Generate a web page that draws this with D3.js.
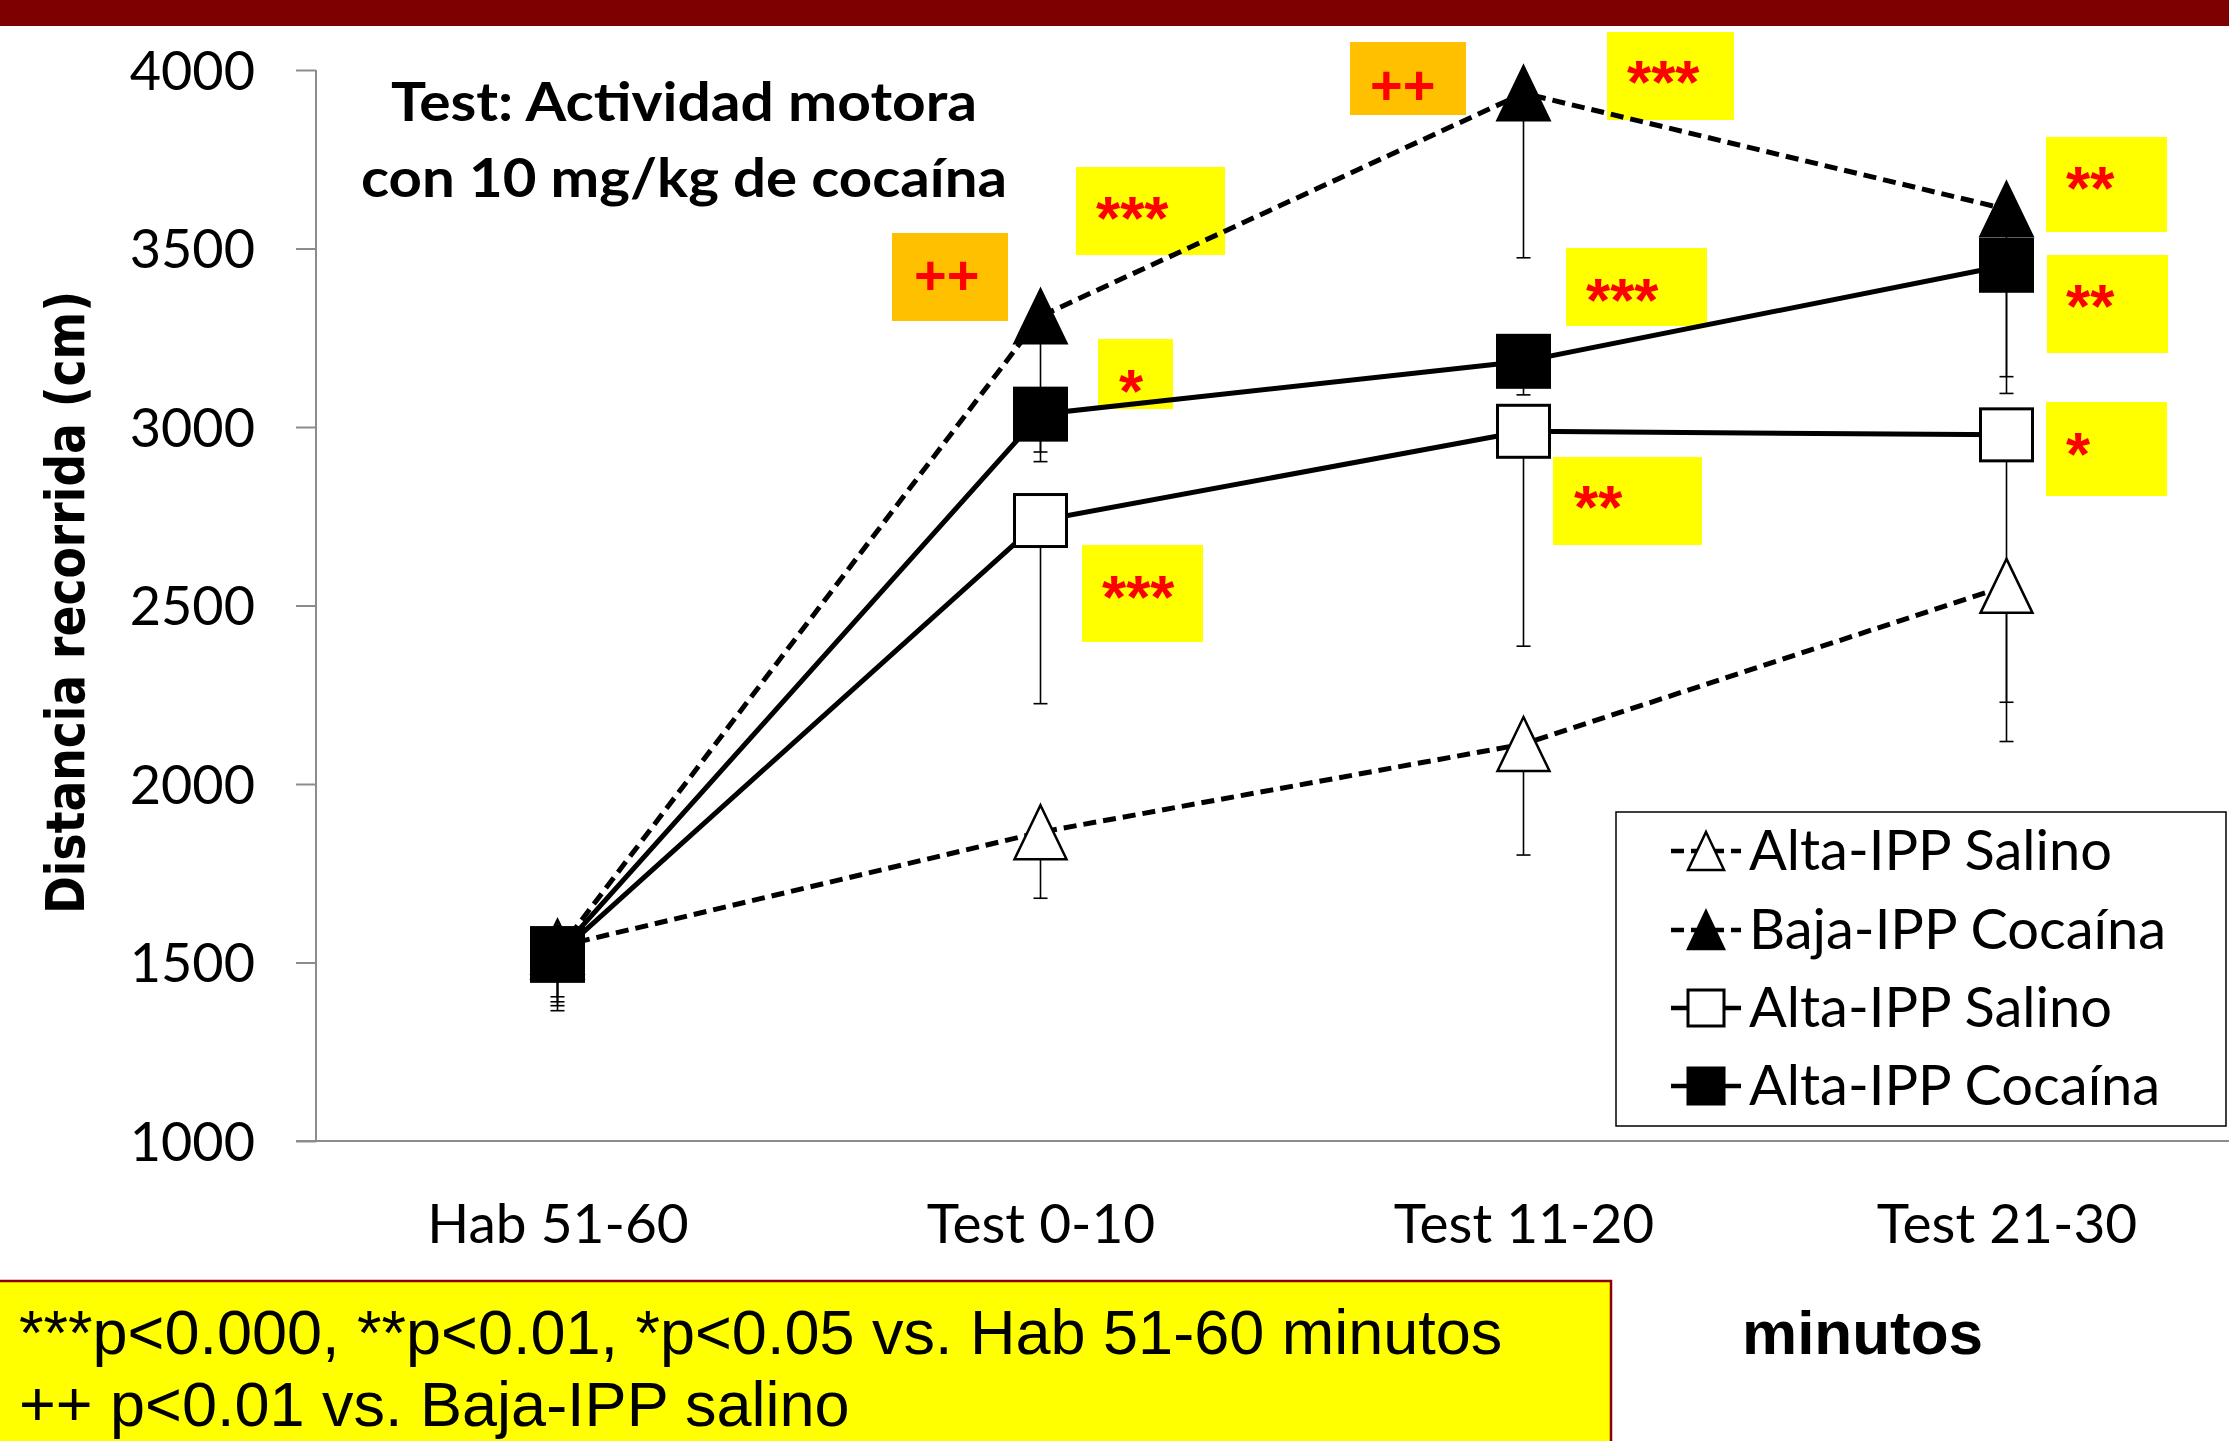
<!DOCTYPE html>
<html>
<head>
<meta charset="utf-8">
<title>Test: Actividad motora con 10 mg/kg de cocaína</title>
<script src="https://cdn.jsdelivr.net/npm/d3@7"></script>
<style>
	body{ margin:0; background:#fff; }
	svg{ display:block; }
</style>
</head>
<body>
<div id="chart"></div>
<script>

// ---- data ----
var categories = ["Hab 51-60", "Test 0-10", "Test 11-20", "Test 21-30"];
var yTicks = [1000, 1500, 2000, 2500, 3000, 3500, 4000];

var seriesNames = ["Alta-IPP Salino", "Baja-IPP Cocaína", "Alta-IPP Salino", "Alta-IPP Cocaína"];

var altaSalinoTri  = [1544, 1865, 2112, 2555];
var bajaCocainaTri = [1530, 3310, 3935, 3610];
var altaSalinoSq   = [1520, 2738, 2988, 2978];
var altaCocainaSq  = [1525, 3036, 3184, 3453];

// lower end of the error bars (only the minus side is visible)
var altaSalinoTriLow  = [1390, 1680, 1801, 2119];
var bajaCocainaTriLow = [1365, 2903, 3474, 3141];
var altaSalinoSqLow   = [1379, 2225, 2386, 2229];
var altaCocainaSqLow  = [1404, 2930, 3090, 3094];

var annotLabels = ["++", "***", "*", "***", "++", "***", "***", "**", "**", "**", "*"];
var footnoteLines = ["***p<0.000, **p<0.01, *p<0.05 vs. Hab 51-60 minutos", "++ p<0.01 vs. Baja-IPP salino"];

// ---- layout ----
var W = 2229, H = 1441;
var orange = "#FFC000", yellow = "#FFFF00";
// boxes for the significance marks (x, y, w, h, text x, text centre y)
var annotBoxes = [
	{x:892,  y:233, w:116, h:88,  fill:orange, tx:914,  ty:275},
	{x:1076, y:167, w:149, h:88,  fill:yellow, tx:1096, ty:204},
	{x:1098, y:339, w:75,  h:70,  fill:yellow, tx:1119, ty:377},
	{x:1082, y:545, w:121, h:97,  fill:yellow, tx:1102, ty:583},
	{x:1350, y:42,  w:116, h:73,  fill:orange, tx:1370, ty:85},
	{x:1607, y:32,  w:127, h:88,  fill:yellow, tx:1627, ty:68},
	{x:1566, y:248, w:141, h:78,  fill:yellow, tx:1586, ty:286},
	{x:1553, y:457, w:149, h:88,  fill:yellow, tx:1574, ty:493},
	{x:2046, y:137, w:121, h:95,  fill:yellow, tx:2066, ty:174},
	{x:2047, y:255, w:121, h:98,  fill:yellow, tx:2066, ty:292},
	{x:2046, y:402, w:121, h:94,  fill:yellow, tx:2066, ty:440}
];

var svg = d3.select("#chart").append("svg")
	.attr("width", W).attr("height", H);

svg.append("rect").attr("width", W).attr("height", H).attr("fill", "#fff");

// dark red band at the top
svg.append("rect").attr("x", 0).attr("y", 0).attr("width", W).attr("height", 26).attr("fill", "#7F0000");

var x = d3.scalePoint().domain(categories).range([316, 2248]).padding(0.5);
var y = d3.scaleLinear().domain([1000, 4000]).range([1141, 70]);

var calibri = "Lato, 'Open Sans', sans-serif";
var arial = "'Liberation Sans', Arial, sans-serif";

// ---- axes ----
var axisColor = "#8c8c8c";
svg.append("line").attr("x1", 316).attr("x2", 316).attr("y1", y(4000)).attr("y2", y(1000))
	.attr("stroke", axisColor).attr("stroke-width", 2);
svg.append("line").attr("x1", 296).attr("x2", W).attr("y1", y(1000)).attr("y2", y(1000))
	.attr("stroke", axisColor).attr("stroke-width", 2);

var yAxis = d3.axisLeft(y).tickValues(yTicks).tickSize(20).tickPadding(41).tickFormat(d3.format("d"));
var gy = svg.append("g").attr("transform", "translate(316,0)").call(yAxis);
gy.select(".domain").remove();
gy.selectAll(".tick line").attr("stroke", axisColor).attr("stroke-width", 2);
gy.selectAll(".tick text").attr("font-family", calibri).attr("font-size", 54).attr("fill", "#000")
	.attr("dy", "0.36em");

var xAxis = d3.axisBottom(x).tickSize(0).tickPadding(0);
var gx = svg.append("g").call(xAxis);
gx.select(".domain").remove();
gx.selectAll(".tick text").attr("font-family", calibri).attr("font-size", 55).attr("fill", "#000")
	.attr("y", 1243).attr("dy", null);

// y axis title
svg.append("text")
	.attr("transform", "rotate(-90)")
	.attr("x", -914).attr("y", 84)
	.attr("font-family", "'DejaVu Sans', Verdana, sans-serif").attr("font-weight", "bold")
	.attr("font-size", 54)
	.attr("textLength", 623).attr("lengthAdjust", "spacingAndGlyphs")
	.text("Distancia recorrida (cm)");

// chart title
var title = [["Test: Actividad motora", 391, 120.5, 586], ["con 10 mg/kg de cocaína", 361, 197, 646]];
title.forEach(function(t){
	svg.append("text").attr("x", t[1]).attr("y", t[2])
		.attr("font-family", calibri).attr("font-weight", "bold").attr("font-size", 53)
		.attr("textLength", t[3]).attr("lengthAdjust", "spacingAndGlyphs")
		.text(t[0]);
});

// ---- annotation boxes ----
annotBoxes.forEach(function(b, i){
	svg.append("rect").attr("x", b.x).attr("y", b.y).attr("width", b.w).attr("height", b.h).attr("fill", b.fill);
	var isPlus = annotLabels[i].indexOf("+") != -1;
	var fs = isPlus ? 56 : 62;
	// push baseline down so the glyphs sit centred on ty
	var off = isPlus ? 0.34 * fs : 0.56 * fs;
	svg.append("text").attr("x", b.tx).attr("y", b.ty + off)
		.attr("font-family", arial).attr("font-weight", "bold").attr("font-size", fs)
		.attr("fill", "#FF0000")
		.text(annotLabels[i]);
});

// ---- series ----
var seriesValues = [altaSalinoTri, bajaCocainaTri, altaSalinoSq, altaCocainaSq];
var seriesLow = [altaSalinoTriLow, bajaCocainaTriLow, altaSalinoSqLow, altaCocainaSqLow];
var seriesShape = ["tri", "tri", "sq", "sq"];
var seriesFill = ["#fff", "#000", "#fff", "#000"];
var seriesDash = ["13,7", "13,7", null, null];

function triPath(w, h){
	return "M0," + (-h/2) + "L" + (w/2) + "," + (h/2) + "L" + (-w/2) + "," + (h/2) + "Z";
}

// error bars underneath everything
seriesValues.forEach(function(vals, s){
	vals.forEach(function(v, i){
		var cx = x(categories[i]);
		svg.append("line").attr("x1", cx).attr("x2", cx).attr("y1", y(v)).attr("y2", y(seriesLow[s][i]))
			.attr("stroke", "#000").attr("stroke-width", 1.6);
		svg.append("line").attr("x1", cx - 7).attr("x2", cx + 7)
			.attr("y1", y(seriesLow[s][i])).attr("y2", y(seriesLow[s][i]))
			.attr("stroke", "#000").attr("stroke-width", 1.6);
	});
});

var line = d3.line().x(function(d, i){ return x(categories[i]); }).y(function(d){ return y(d); });

seriesValues.forEach(function(vals, s){
	svg.append("path").datum(vals).attr("d", line)
		.attr("fill", "none").attr("stroke", "#000").attr("stroke-width", 5)
		.attr("stroke-dasharray", seriesDash[s]);
});

function drawMarker(g, shape, fill, size){
	if(shape == "tri"){
		g.append("path").attr("d", triPath(size, size + 2))
			.attr("fill", fill).attr("stroke", "#000").attr("stroke-width", 2.5).attr("stroke-linejoin", "miter");
	} else {
		g.append("rect").attr("x", -size/2).attr("y", -size/2).attr("width", size).attr("height", size)
			.attr("fill", fill).attr("stroke", "#000").attr("stroke-width", 3);
	}
}

seriesValues.forEach(function(vals, s){
	vals.forEach(function(v, i){
		var g = svg.append("g").attr("transform", "translate(" + x(categories[i]) + "," + y(v) + ")");
		drawMarker(g, seriesShape[s], seriesFill[s], 52);
	});
});

// ---- legend ----
var leg = svg.append("g");
leg.append("rect").attr("x", 1616).attr("y", 812).attr("width", 610).attr("height", 314)
	.attr("fill", "#fff").attr("stroke", "#000").attr("stroke-width", 1.5);
var legRowY = [851, 930, 1008, 1086];
seriesNames.forEach(function(name, s){
	var ly = legRowY[s];
	leg.append("line").attr("x1", 1671).attr("x2", 1741).attr("y1", ly).attr("y2", ly)
		.attr("stroke", "#000").attr("stroke-width", 4.5).attr("stroke-dasharray", seriesDash[s]);
	var g = leg.append("g").attr("transform", "translate(1706," + ly + ")");
	drawMarker(g, seriesShape[s], seriesFill[s], 36);
	leg.append("text").attr("x", 1749).attr("y", ly + 19)
		.attr("font-family", calibri).attr("font-size", 56).attr("fill", "#000")
		.text(name);
});

// ---- footnote ----
svg.append("rect").attr("x", -2).attr("y", 1281).attr("width", 1613).attr("height", 200)
	.attr("fill", "#FFFF00").attr("stroke", "#8B0000").attr("stroke-width", 2.5);
svg.append("text").attr("x", 19).attr("y", 1354)
	.attr("font-family", arial).attr("font-size", 63).text(footnoteLines[0]);
svg.append("text").attr("x", 19).attr("y", 1426)
	.attr("font-family", arial).attr("font-size", 63).text(footnoteLines[1]);

svg.append("text").attr("x", 1742).attr("y", 1354)
	.attr("font-family", arial).attr("font-weight", "bold").attr("font-size", 62)
	.text("minutos");

</script>
</body>
</html>
